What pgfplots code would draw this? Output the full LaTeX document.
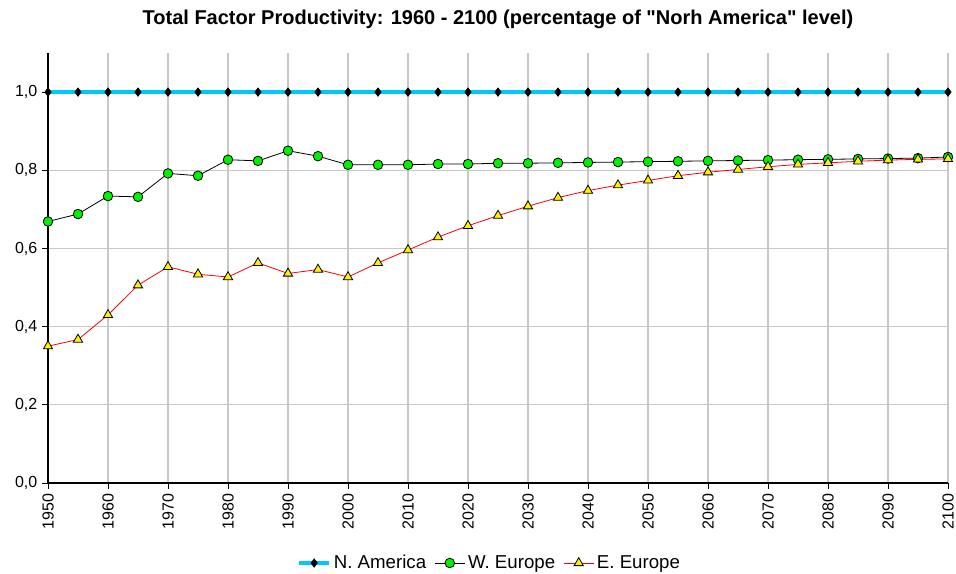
\documentclass[border=0pt]{standalone}
\usepackage{pgfplots}
\pgfplotsset{compat=1.18}
\usepackage{fontspec}
\setmainfont{Liberation Sans}[Ligatures=TeXOff]
\definecolor{naline}{RGB}{0,200,250}
\definecolor{wegreen}{RGB}{0,240,0}
\definecolor{eeyellow}{RGB}{255,240,0}
\definecolor{gridgray}{RGB}{200,200,200}
\begin{document}
\begin{tikzpicture}[x=0.75pt,y=0.75pt]
\path[use as bounding box] (-48,-91) rectangle (908,483);
\begin{axis}[
  at={(0,0)}, anchor=south west,
  scale only axis,
  width=675pt, height=322.5pt,
  xmin=1950, xmax=2100, ymin=0, ymax=1.1,
  xtick={1950,1960,...,2100},
  ytick={0,0.2,0.4,0.6,0.8,1.0},
  axis x line=bottom, axis y line=left,
  axis line style={-, black, line width=0.8pt},
  tick align=outside,
  major tick length=4.5pt,
  tick style={black, line width=0.6pt},
  grid=major,
  grid style={gridgray, line width=0.8pt},
  /pgf/number format/assume math mode=true,
  x tick label style={rotate=90, anchor=east, font=\fontsize{12}{14}\selectfont, /pgf/number format/1000 sep={}},
  y tick label style={font=\fontsize{12}{14}\selectfont, /pgf/number format/.cd, fixed, fixed zerofill, precision=1, use comma},
  title={Total Factor Productivity: 1960 - 2100 (percentage of "Norh America" level)},
  title style={font=\bfseries\fontsize{15}{18}\selectfont, at={(0.5,1)}, anchor=base, yshift=15pt},
  legend style={at={(0.491,-0.186)}, anchor=center, draw=none, legend columns=-1, font=\fontsize{14}{16}\selectfont, /tikz/every even column/.append style={column sep=4pt}, inner sep=0pt},
  legend image code/.code={\draw[mark repeat=2,mark phase=2] plot coordinates {(0cm,0cm)(0.4cm,0cm)(0.8cm,0cm)};},
  legend cell align=left,
  clip=false,
]
\addplot[naline, line width=2.8pt, mark=diamond*, mark size=3.2pt, mark options={fill=black, draw=black, line width=0.4pt}] coordinates {
(1950,1)(1955,1)(1960,1)(1965,1)(1970,1)(1975,1)(1980,1)(1985,1)(1990,1)(1995,1)
(2000,1)(2005,1)(2010,1)(2015,1)(2020,1)(2025,1)(2030,1)(2035,1)(2040,1)(2045,1)
(2050,1)(2055,1)(2060,1)(2065,1)(2070,1)(2075,1)(2080,1)(2085,1)(2090,1)(2095,1)(2100,1)};
\addlegendentry{N. America}
\addplot[black, line width=0.6pt, mark=*, mark size=3.6pt, mark options={fill=wegreen, draw=black, line width=0.6pt}] coordinates {
(1950,0.669)(1955,0.688)(1960,0.734)(1965,0.732)(1970,0.792)(1975,0.786)(1980,0.827)(1985,0.824)(1990,0.850)(1995,0.836)
(2000,0.814)(2005,0.814)(2010,0.814)(2015,0.816)(2020,0.816)(2025,0.818)(2030,0.818)(2035,0.819)(2040,0.820)(2045,0.821)
(2050,0.822)(2055,0.823)(2060,0.824)(2065,0.825)(2070,0.826)(2075,0.827)(2080,0.828)(2085,0.829)(2090,0.830)(2095,0.831)(2100,0.834)};
\addlegendentry{W. Europe}
\addplot[red, line width=0.6pt, mark=triangle*, mark size=4pt, mark options={fill=eeyellow, draw=black, line width=0.6pt}] coordinates {
(1950,0.350)(1955,0.367)(1960,0.430)(1965,0.506)(1970,0.553)(1975,0.534)(1980,0.527)(1985,0.563)(1990,0.536)(1995,0.546)
(2000,0.527)(2005,0.563)(2010,0.596)(2015,0.629)(2020,0.658)(2025,0.684)(2030,0.708)(2035,0.730)(2040,0.748)(2045,0.762)
(2050,0.774)(2055,0.786)(2060,0.795)(2065,0.802)(2070,0.809)(2075,0.815)(2080,0.819)(2085,0.823)(2090,0.826)(2095,0.828)(2100,0.829)};
\addlegendentry{E. Europe}
\end{axis}
\end{tikzpicture}
\end{document}
